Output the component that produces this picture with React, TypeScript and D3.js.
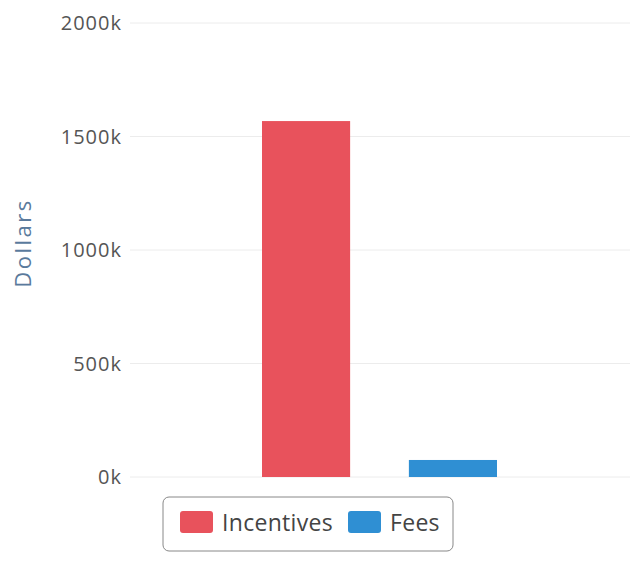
import { useRef, useEffect } from "react";
import * as d3 from "d3";

const seriesNames = ["Incentives", "Fees"];
const seriesValues = [1568, 75]; // thousands of dollars
const seriesColors = ["#e8525c", "#2f8fd3"];
const yTicks = [0, 500, 1000, 1500, 2000];

export default function App() {
  const svgRef = useRef<SVGSVGElement>(null);

  useEffect(() => {
    if (!svgRef.current) return;
    const svg = d3.select(svgRef.current);
    svg.selectAll("*").remove();

    const width = 637;
    const height = 566;
    const margin = { top: 23, right: 7, bottom: 89, left: 130 };
    const innerWidth = width - margin.left - margin.right;
    const innerHeight = height - margin.top - margin.bottom;

    const g = svg
      .append("g")
      .attr("transform", `translate(${margin.left},${margin.top})`);

    const y = d3.scaleLinear().domain([0, 2000]).range([innerHeight, 0]);

    // one category, two series grouped around the centre
    const x0 = d3.scaleBand().domain(["all"]).range([0, innerWidth]).padding(0);
    const x1 = d3
      .scaleBand()
      .domain(seriesNames)
      .range([x0("all")! + 132, x0("all")! + x0.bandwidth() - 133])
      .paddingInner(0.4);

    // grid
    g.selectAll(".grid")
      .data(yTicks)
      .join("line")
      .attr("x1", 0)
      .attr("x2", innerWidth)
      .attr("y1", (d) => y(d))
      .attr("y2", (d) => y(d))
      .attr("stroke", "#ececec")
      .attr("stroke-width", 1);

    // y tick labels
    g.selectAll(".tick-label")
      .data(yTicks)
      .join("text")
      .attr("x", -8)
      .attr("y", (d) => y(d))
      .attr("dy", "0.35em")
      .attr("text-anchor", "end")
      .attr("fill", "#555")
      .attr("font-family", "'Open Sans', sans-serif")
      .attr("font-size", "20px")
      .attr("letter-spacing", "1px")
      .text((d) => `${d}k`);

    // bars
    g.selectAll(".bar")
      .data(seriesNames)
      .join("rect")
      .attr("x", (d) => x1(d)!)
      .attr("width", x1.bandwidth())
      .attr("y", (_, i) => y(seriesValues[i]))
      .attr("height", (_, i) => innerHeight - y(seriesValues[i]))
      .attr("fill", (_, i) => seriesColors[i]);

    // y axis title
    svg
      .append("text")
      .attr("transform", "rotate(-90)")
      .attr("x", -243)
      .attr("y", 31)
      .attr("text-anchor", "middle")
      .attr("fill", "#5a7a9c")
      .attr("font-family", "'Open Sans', sans-serif")
      .attr("font-size", "22px")
      .attr("letter-spacing", "2.5px")
      .text("Dollars");

    // legend
    const legend = svg.append("g").attr("transform", "translate(163,497)");
    legend
      .append("rect")
      .attr("width", 290)
      .attr("height", 54)
      .attr("rx", 6)
      .attr("fill", "#fff")
      .attr("stroke", "#888")
      .attr("stroke-width", 1);

    const itemX = [17, 185];
    seriesNames.forEach((name, i) => {
      const item = legend
        .append("g")
        .attr("transform", `translate(${itemX[i]},14)`);
      item
        .append("rect")
        .attr("width", 33)
        .attr("height", 22)
        .attr("rx", 3)
        .attr("fill", seriesColors[i]);
      item
        .append("text")
        .attr("x", 42)
        .attr("y", 12)
        .attr("dy", "0.35em")
        .attr("fill", "#444")
        .attr("font-family", "'Open Sans', sans-serif")
        .attr("font-size", "23px")
        .attr("letter-spacing", "0.3px")
        .text(name);
    });
  }, []);

  return (
    <svg
      ref={svgRef}
      width={637}
      height={566}
      style={{ position: "absolute", left: 0, top: 0, background: "#fff" }}
    />
  );
}
